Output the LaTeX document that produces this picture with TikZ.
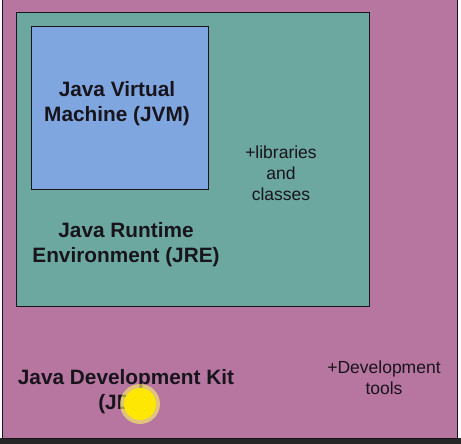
\documentclass[tikz,border=0pt]{standalone}
\usepackage{fontspec}
\setmainfont{Liberation Sans}
\usepackage{tikz}

\definecolor{jdkpink}{RGB}{182,118,160}
\definecolor{jreteal}{RGB}{108,168,160}
\definecolor{jvmblue}{RGB}{128,166,224}
\definecolor{inkdark}{RGB}{24,20,28}

\tikzset{
  kitbox/.style={draw=inkdark, line width=1pt},
  title/.style={font=\bfseries\fontsize{20.8}{25}\selectfont, align=center, text=inkdark, inner sep=0pt},
  extra/.style={font=\fontsize{17.5}{21}\selectfont, align=center, text=inkdark, inner sep=0pt}
}

\begin{document}
\begin{tikzpicture}[x=1pt, y=-1pt]
        \useasboundingbox (0,0) rectangle (461,444);
        \fill [black!85] (0,438) rectangle (461,444);
        % JDK
        \draw [kitbox, fill=jdkpink] (2,0) rectangle (457,438);
        % JRE
        \draw [kitbox, fill=jreteal] (16,13) rectangle (369,306);
        % JVM
        \draw [kitbox, fill=jvmblue] (31,27) rectangle (208,189);
        \node [title] (jvm) at (117,104) {Java Virtual\\Machine (JVM)};
        \node [title] (jre) at (126,245) {Java Runtime\\Environment (JRE)};
        \node [extra] (libs) at (281,173) {+libraries\\and\\classes};
        \node [title] (jdk) at (126,392) {Java Development Kit\\(JDK)};
        \node [extra] (tools) at (384,378) {+Development\\tools};
        % cursor
        \fill [yellow!60, opacity=0.6] (140,404) circle (20);
        \fill [yellow!90!orange] (140,404) circle (16);
\end{tikzpicture}
\end{document}
